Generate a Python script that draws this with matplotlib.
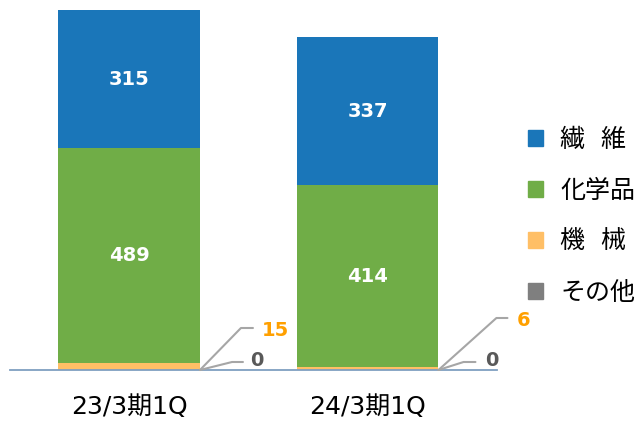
import matplotlib
matplotlib.use('Agg')
import matplotlib.pyplot as plt
from matplotlib.patches import Patch
import numpy as np

plt.rcParams['font.family'] = ['DejaVu Sans', 'Noto Sans CJK JP']

# data
periods = ['23/3期1Q', '24/3期1Q']
segments = ['その他', '機  械', '化学品', '繊  維']
other = [0, 0]
machinery = [15, 6]
chemicals = [489, 414]
fibers = [315, 337]

colors = ['#7f7f7f', '#ffbf66', '#70ad47', '#1a76b9']
series = [other, machinery, chemicals, fibers]

fig = plt.figure(figsize=(6.4, 4.26), dpi=100)
W, H = 640, 426
ax = fig.add_axes([10 / W, (H - 370) / H, 487 / W, 360 / H])

x = np.arange(len(periods))
width = 0.595
bottom = np.zeros(len(periods))
for vals, c in zip(series, colors):
    ax.bar(x, vals, width, bottom=bottom, color=c, linewidth=0)
    bottom += np.array(vals)

# white labels inside the two big segments
bottom = np.array(other, float) + np.array(machinery, float)
for vals in (chemicals, fibers):
    for i, v in enumerate(vals):
        ax.text(x[i], bottom[i] + v / 2, str(v), ha='center', va='center',
                color='white', fontsize=14, fontweight='bold')
    bottom += np.array(vals)

# leader lines for the small segments
px = 72 / 100  # pixels -> points
leaders = [
    # (bar index, value, colour, line end (px), angle, text offset (px))
    (0, machinery[0], '#ffa000', (53, 42), 45.7, (62, 40)),
    (0, other[0], '#595959', (43, 8), 14.0, (50, 9)),
    (1, machinery[1], '#ffa000', (69, 52), 41.9, (78, 50)),
    (1, other[1], '#595959', (37, 8), 17.7, (47, 9)),
]
for i, v, c, end, ang, toff in leaders:
    anchor = (x[i] + width / 2, 0)
    ax.annotate('', xy=anchor, xytext=(end[0] * px, end[1] * px),
                textcoords='offset points', annotation_clip=False,
                arrowprops=dict(arrowstyle='-', color='#a6a6a6', lw=1.5,
                                shrinkA=0, shrinkB=0,
                                connectionstyle='angle,angleA=0,angleB=%s' % ang))
    ax.annotate(str(v), xy=anchor, xytext=(toff[0] * px, toff[1] * px),
                textcoords='offset points', ha='left', va='center',
                color=c, fontsize=14, fontweight='bold', annotation_clip=False)

ax.set_xlim(-0.499, 1.543)
ax.set_ylim(0, sum(s[0] for s in series))
ax.set_yticks([])
ax.set_xticks(x)
ax.set_xticklabels(periods, fontsize=18)
ax.tick_params(axis='x', length=0, pad=18)
for s in ('top', 'right', 'left'):
    ax.spines[s].set_visible(False)
ax.spines['bottom'].set_color('#7f9fc0')
ax.spines['bottom'].set_linewidth(1.3)
ax.patch.set_alpha(0)

handles = [Patch(color=c) for c in colors[::-1]]
fig.legend(handles, segments[::-1], loc='center left',
           bbox_to_anchor=(528 / W, 1 - 216 / H), frameon=False,
           fontsize=18, handlelength=0.6, handleheight=0.6,
           handletextpad=0.68, labelspacing=1.08, borderpad=0,
           borderaxespad=0)

fig.savefig('out.png', dpi=100)
